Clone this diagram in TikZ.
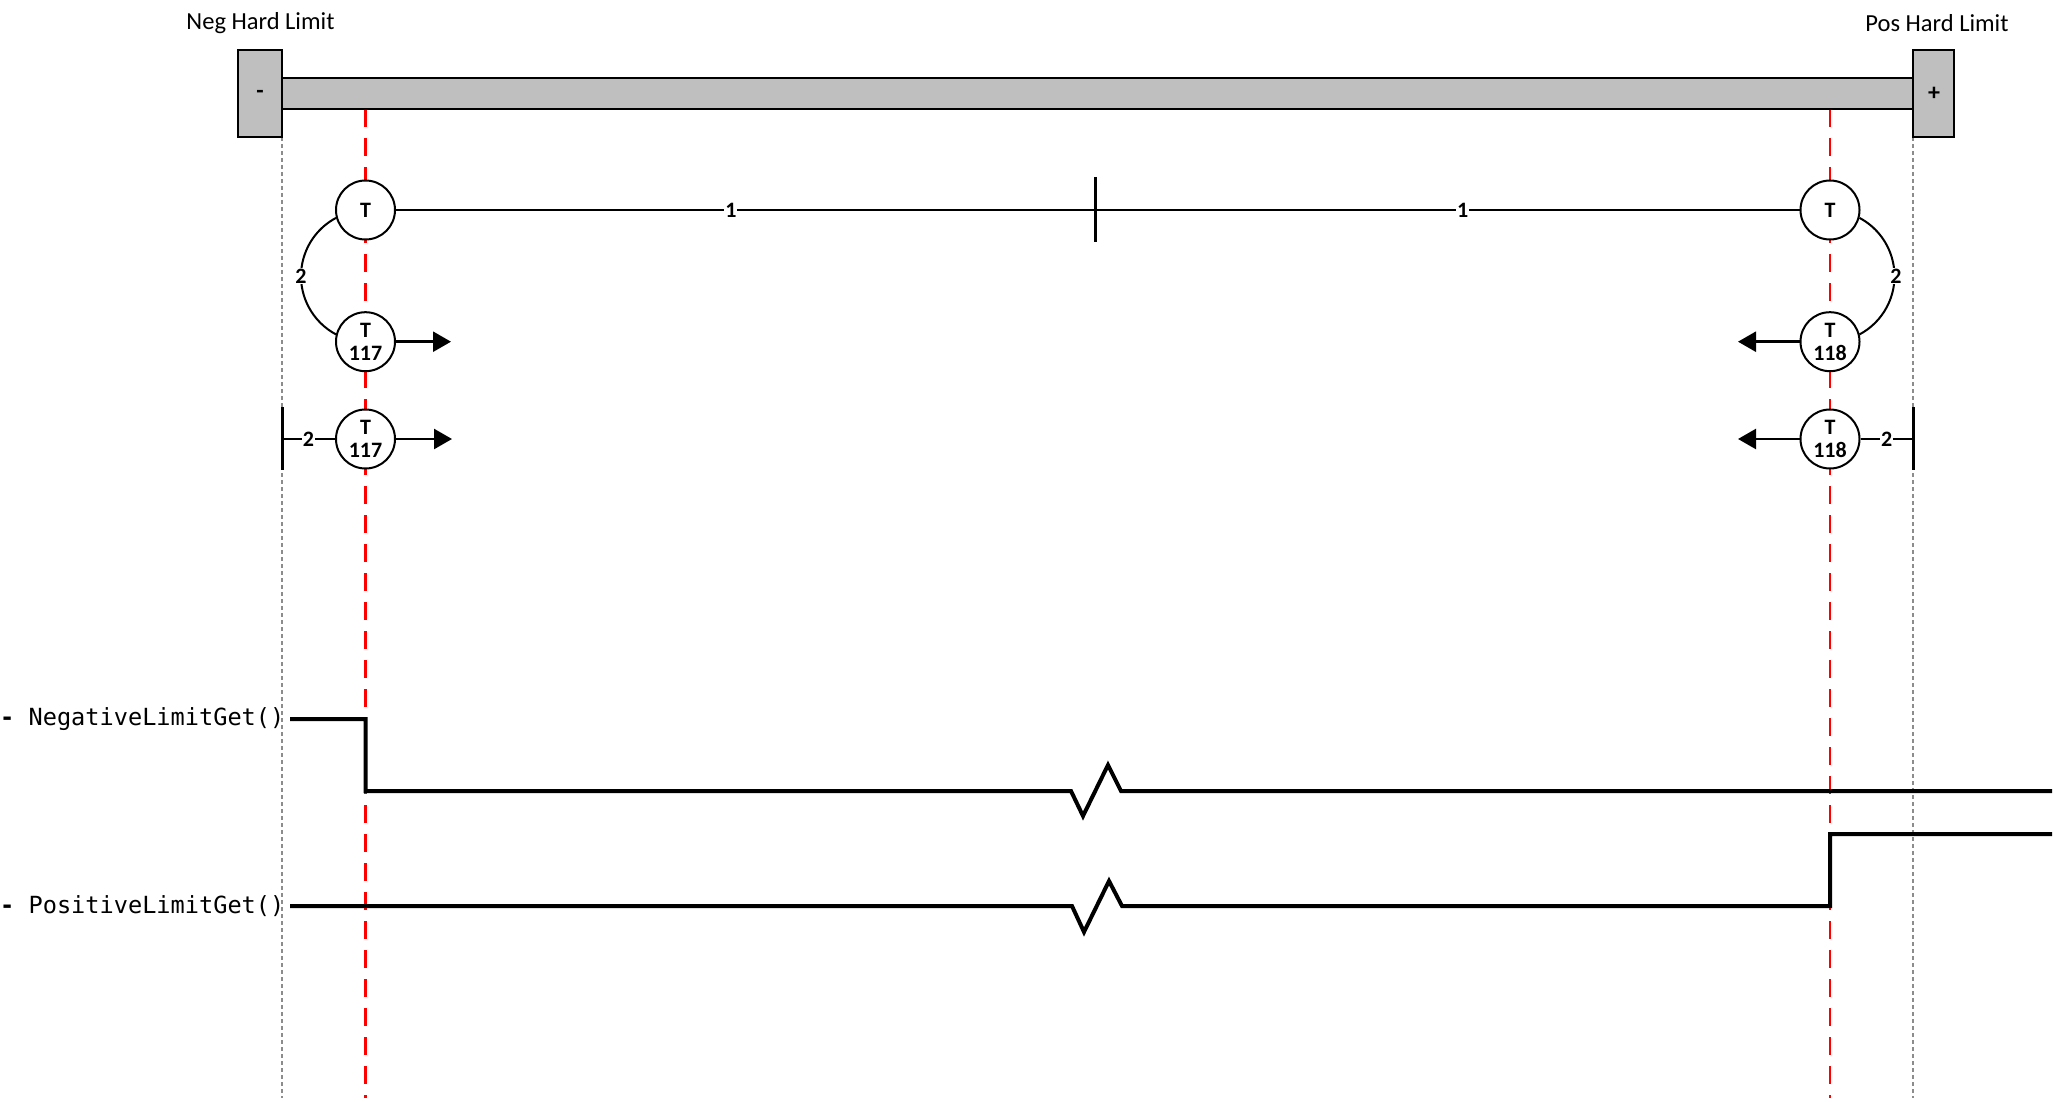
\documentclass[tikz,border=0pt]{standalone}
\usepackage{fontspec}
\setmainfont{Carlito}
\newfontfamily\monofont{DejaVu Sans Mono}
\usetikzlibrary{arrows.meta}
\definecolor{blockgray}{RGB}{191,191,191}
\definecolor{guidegray}{RGB}{140,140,140}
\tikzset{
  hardblock/.style={draw=black, fill=blockgray, line width=2.5pt},
  guide/.style={draw=guidegray, line width=2pt, dash pattern=on 4pt off 3pt},
  trigger/.style={draw=red, line width=2.5pt, dash pattern=on 18pt off 11pt},
  tcirc/.style={circle, draw=black, fill=white, line width=2pt, minimum size=59pt, inner sep=0pt, align=center,
    font=\bfseries\fontsize{22}{24}\selectfont},
  conn/.style={draw=black, line width=2pt},
  arr/.style={draw=black, line width=2.5pt, -{Triangle[length=18pt,width=20pt]}},
  numlbl/.style={fill=white, inner sep=1pt, font=\bfseries\fontsize{22}{24}\selectfont},
  stopbar/.style={draw=black, line width=3pt},
  title/.style={font=\fontsize{24.5}{28}\selectfont, inner sep=0pt},
  sig/.style={draw=black, line width=4pt, line join=miter},
  sigtext/.style={font=\monofont\fontsize{23.6}{28}\selectfont, inner sep=0pt, anchor=west},
}
\begin{document}
\begin{tikzpicture}[x=1pt,y=1pt]
\useasboundingbox (0,0) rectangle (2054,-1102);

% guides
\coordinate (gl1) at (282,-137);  \coordinate (gl2) at (282,-1098);
\coordinate (gr1) at (1913,-137); \coordinate (gr2) at (1913,-1098);
\draw[guide] (gl1) -- (gl2);
\draw[guide] (gr1) -- (gr2);
\coordinate (rl1) at (365.5,-109); \coordinate (rl2) at (365.5,-1098);
\coordinate (rr1) at (1830,-109);  \coordinate (rr2) at (1830,-1098);
\draw[trigger] (rl1) -- (rl2);
\draw[trigger] (rr1) -- (rr2);

% hard limit blocks
\draw[hardblock] (282,-78) rectangle (1913,-109);
\draw[hardblock] (238,-50) rectangle (282,-137);
\draw[hardblock] (1913,-50) rectangle (1954,-137);
\node[font=\bfseries\fontsize{24}{28}\selectfont] (minus) at (260,-94) {-};
\node[font=\bfseries\fontsize{24}{28}\selectfont] (plus) at (1934,-94) {+};
\node[title] (neglbl) at (260.5,-23) {Neg Hard Limit};
\node[title] (poslbl) at (1937,-23) {Pos Hard Limit};

% circles
\node[tcirc] (tl) at (365.5,-210) {T};
\node[tcirc] (tr) at (1830,-210) {T};
\node[tcirc] (ml) at (365.5,-341.7) {T\\[-1pt]117};
\node[tcirc] (mr) at (1830,-341.7) {T\\[-1pt]118};
\node[tcirc] (bl) at (365.5,-439) {T\\[-1pt]117};
\node[tcirc] (br) at (1830,-439) {T\\[-1pt]118};

% top travel line
\coordinate (tick1) at (1095,-177); \coordinate (tick2) at (1095,-242);
\draw[conn] (tl.east) -- node[numlbl, pos=0.479] {1} (tick1 |- tl.east) -- node[numlbl, pos=0.522] {1} (tr.west);
\draw[stopbar] (tick1) -- (tick2);

% arcs
\draw[conn] (tl.195) arc[start angle=118, end angle=242, radius=66];
\draw[conn] (tr.-15) arc[start angle=62, end angle=-62, radius=66];
\node[numlbl] (l2a) at (301,-276) {2};
\node[numlbl] (l2b) at (1896,-276) {2};

% arrows
\coordinate (aml) at (451,-341.7);
\coordinate (abl) at (452,-439);
\coordinate (amr) at (1738,-341.7);
\coordinate (abr) at (1738,-439);
\draw[arr] (ml.east) -- (aml);
\draw[arr] (bl.east) -- (abl);
\draw[arr] (mr.west) -- (amr);
\draw[arr] (br.west) -- (abr);

% bottom stops
\coordinate (sl1) at (282,-407); \coordinate (sl2) at (282,-470);
\coordinate (sr1) at (1913,-407); \coordinate (sr2) at (1913,-470);
\draw[stopbar] (sl1) -- (sl2);
\draw[stopbar] (sr1) -- (sr2);
\draw[conn] (sl1 |- bl.west) -- node[numlbl] {2} (bl.west);
\draw[conn] (br.east) -- node[numlbl] {2} (sr1 |- br.east);

% signals
\node[sigtext] (negtxt) at (0,-719) {{\bfseries -} NegativeLimitGet()};
\node[sigtext] (postxt) at (0,-906) {{\bfseries -} PositiveLimitGet()};
\draw[sig] (290,-719) -- (365.5,-719) -- (365.5,-791) -- (1071,-791) -- (1083,-816) -- (1108,-765) -- (1121,-791) -- (2052,-791);
\draw[sig] (290,-906) -- (1072,-906) -- (1084,-932) -- (1109,-881) -- (1122,-906) -- (1830,-906) -- (1830,-834) -- (2052,-834);
\end{tikzpicture}
\end{document}
